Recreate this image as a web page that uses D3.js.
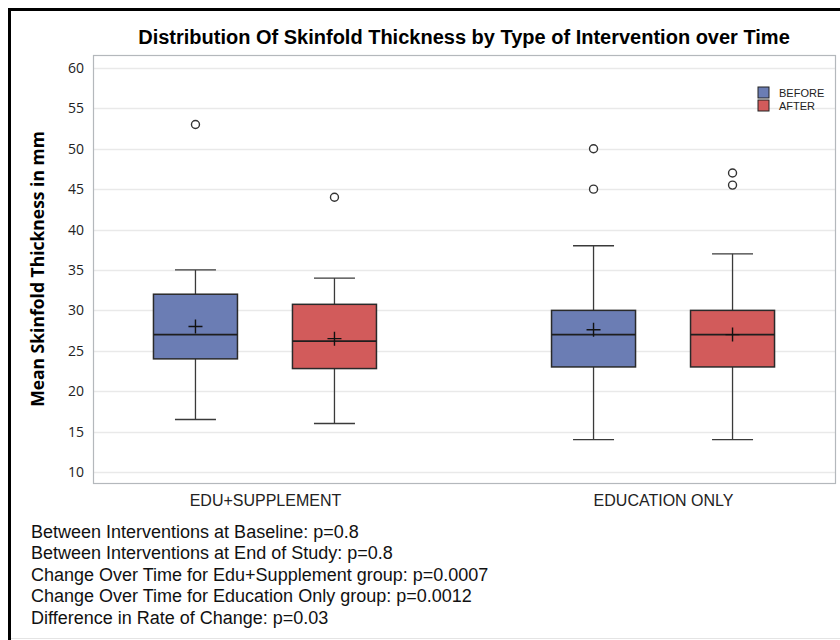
<!DOCTYPE html>
<html>
<head>
<meta charset="utf-8">
<script src="https://cdn.jsdelivr.net/npm/d3@7"></script>
<style>
  html, body { margin: 0; padding: 0; background: #fff; }
  svg { display: block; }
</style>
</head>
<body>
<svg id="chart" width="840" height="640"></svg>
<script>
// Intervention groups and measurement times
const groups = ["EDU+SUPPLEMENT", "EDUCATION ONLY"];
const times = ["BEFORE", "AFTER"];

// Five-number summaries (whisker low, Q1, median, Q3, whisker high), means and outliers, in mm
const whiskerLow  = [[16.5, 16.0], [14.0, 14.0]];
const q1          = [[24.0, 22.8], [23.0, 23.0]];
const median      = [[27.0, 26.2], [27.0, 27.0]];
const q3          = [[32.0, 30.75], [30.0, 30.0]];
const whiskerHigh = [[35.0, 34.0], [38.0, 37.0]];
const means       = [[28.0, 26.5], [27.6, 27.0]];
const outliers    = [[[53.0], [44.0]], [[50.0, 45.0], [47.0, 45.5]]];

const yTicks = [10, 15, 20, 25, 30, 35, 40, 45, 50, 55, 60];

const notes = [
  "Between Interventions at Baseline: p=0.8",
  "Between Interventions at End of Study: p=0.8",
  "Change Over Time for Edu+Supplement group: p=0.0007",
  "Change Over Time for Education Only group: p=0.0012",
  "Difference in Rate of Change: p=0.03"
];

const colors = { BEFORE: "#6b7db4", AFTER: "#d25b5b" };

const svg = d3.select("#chart");
const plot = { left: 93, right: 835, top: 55, bottom: 483 };

const y = d3.scaleLinear().domain([8.64, 61.6]).range([plot.bottom, plot.top]);
const x = d3.scalePoint().domain(groups).range([plot.left, plot.right]).padding(0.432);
const xInner = d3.scalePoint().domain(times).range([-69.5, 69.5]);
const boxW = 84;

// Outer frame
svg.append("path")
  .attr("d", "M9.5,640 V9.5 H840")
  .attr("fill", "none").attr("stroke", "#000").attr("stroke-width", 3);
svg.append("line")
  .attr("x1", 11).attr("x2", 840).attr("y1", 638.5).attr("y2", 638.5)
  .attr("stroke", "#e4e4e4").attr("stroke-width", 1);

// Title
svg.append("text")
  .attr("x", (plot.left + plot.right) / 2).attr("y", 44)
  .attr("text-anchor", "middle")
  .style("font-family", "'Liberation Sans', Arial, sans-serif")
  .style("font-weight", "bold").style("font-size", "20px")
  .text("Distribution Of Skinfold Thickness by Type of Intervention over Time");

// Gridlines
svg.append("g")
  .selectAll("line").data(yTicks).join("line")
  .attr("x1", plot.left).attr("x2", plot.right)
  .attr("y1", d => Math.round(y(d)) + 0.5).attr("y2", d => Math.round(y(d)) + 0.5)
  .attr("stroke", "#e9e9e9").attr("stroke-width", 1.5);

// Y axis labels
const yAxis = svg.append("g")
  .attr("transform", `translate(${plot.left},0)`)
  .call(d3.axisLeft(y).tickValues(yTicks).tickSize(0).tickPadding(9));
yAxis.select(".domain").remove();
yAxis.selectAll("text")
  .style("font-family", "'Open Sans', sans-serif").style("font-size", "14px").attr("fill", "#222");

svg.append("text")
  .attr("transform", `translate(44,${(plot.top + plot.bottom) / 2}) rotate(-90)`)
  .attr("text-anchor", "middle")
  .style("font-family", "'Open Sans', sans-serif").style("font-weight", "bold").style("font-size", "17.5px")
  .text("Mean Skinfold Thickness in mm");

// X axis labels
const xAxis = svg.append("g")
  .attr("transform", `translate(0,${plot.bottom})`)
  .call(d3.axisBottom(x).tickSize(0).tickPadding(12));
xAxis.select(".domain").remove();
xAxis.selectAll("text")
  .style("font-family", "'Liberation Sans', Arial, sans-serif").style("font-size", "16px").attr("fill", "#222");

// Box plots
const boxes = [];
groups.forEach((g, gi) => times.forEach((t, ti) => boxes.push({
  group: g, time: t,
  lo: whiskerLow[gi][ti], q1: q1[gi][ti], med: median[gi][ti], q3: q3[gi][ti],
  hi: whiskerHigh[gi][ti], mean: means[gi][ti], out: outliers[gi][ti]
})));

const bx = svg.append("g").selectAll("g").data(boxes).join("g")
  .attr("transform", d => `translate(${x(d.group) + xInner(d.time)},0)`);

const strokeCol = "#3a3a3a";
// whiskers
bx.append("line").attr("x1", 0).attr("x2", 0)
  .attr("y1", d => y(d.hi)).attr("y2", d => y(d.q3))
  .attr("stroke", strokeCol).attr("stroke-width", 1.3);
bx.append("line").attr("x1", 0).attr("x2", 0)
  .attr("y1", d => y(d.q1)).attr("y2", d => y(d.lo))
  .attr("stroke", strokeCol).attr("stroke-width", 1.3);
bx.append("line").attr("x1", -20.5).attr("x2", 20.5)
  .attr("y1", d => y(d.hi)).attr("y2", d => y(d.hi))
  .attr("stroke", strokeCol).attr("stroke-width", 1.3);
bx.append("line").attr("x1", -20.5).attr("x2", 20.5)
  .attr("y1", d => y(d.lo)).attr("y2", d => y(d.lo))
  .attr("stroke", strokeCol).attr("stroke-width", 1.3);
// box
bx.append("rect")
  .attr("x", -boxW / 2).attr("width", boxW)
  .attr("y", d => y(d.q3)).attr("height", d => y(d.q1) - y(d.q3))
  .attr("fill", d => colors[d.time])
  .attr("stroke", "#2a2a2a").attr("stroke-width", 1.5);
// median
bx.append("line").attr("x1", -boxW / 2).attr("x2", boxW / 2)
  .attr("y1", d => y(d.med)).attr("y2", d => y(d.med))
  .attr("stroke", "#1e1e1e").attr("stroke-width", 1.6);
// mean marker
bx.append("path")
  .attr("d", d => `M-7,${y(d.mean)} H7 M0,${y(d.mean) - 7} V${y(d.mean) + 7}`)
  .attr("stroke", "#111").attr("stroke-width", 1.4).attr("fill", "none");
// outliers
bx.selectAll("circle").data(d => d.out).join("circle")
  .attr("cx", 0).attr("cy", v => y(v)).attr("r", 4)
  .attr("fill", "#fff").attr("stroke", "#333").attr("stroke-width", 1.4);

// Plot frame
svg.append("rect")
  .attr("x", plot.left + 0.5).attr("y", plot.top + 0.5)
  .attr("width", plot.right - plot.left).attr("height", plot.bottom - plot.top)
  .attr("fill", "none").attr("stroke", "#b4b8bc").attr("stroke-width", 1.2);

// Legend
const legend = svg.append("g").attr("transform", "translate(758,87)")
  .selectAll("g").data(times).join("g")
  .attr("transform", (d, i) => `translate(0,${i * 13})`);
legend.append("rect")
  .attr("width", 11).attr("height", 11)
  .attr("fill", d => colors[d]).attr("stroke", "#222").attr("stroke-width", 1);
legend.append("text")
  .attr("x", 21).attr("y", 9.5)
  .style("font-family", "'Liberation Sans', Arial, sans-serif").style("font-size", "11px").attr("fill", "#222")
  .text(d => d);

// Footnotes
svg.append("g").selectAll("text").data(notes).join("text")
  .attr("x", 31).attr("y", (d, i) => 537.5 + i * 21.5)
  .style("font-family", "'Liberation Sans', Arial, sans-serif").style("font-size", "18px").attr("fill", "#111")
  .text(d => d);
</script>
</body>
</html>
